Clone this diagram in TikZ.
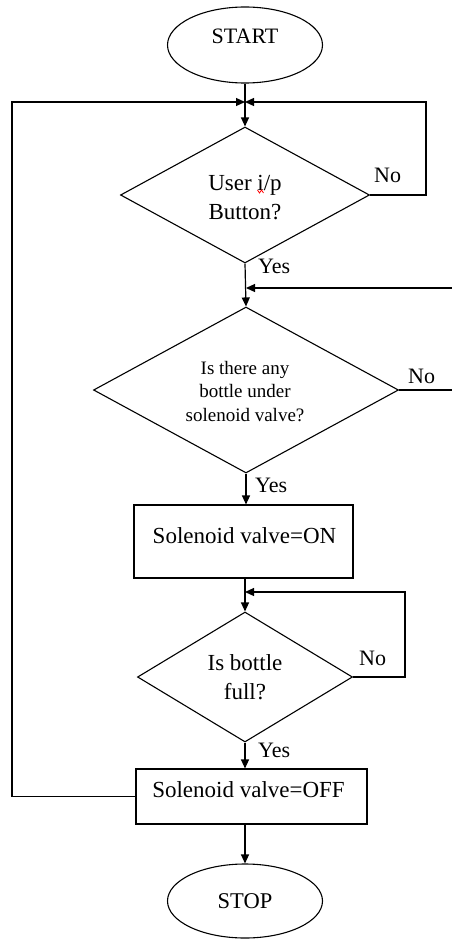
\documentclass[tikz,border=0pt]{standalone}
\usepackage{fontspec}
\setmainfont{Liberation Serif}
\usetikzlibrary{shapes.geometric,arrows.meta}
\tikzset{
  shp/.style={draw=black,line width=1.1pt,inner sep=0pt},
  oval/.style={shp,ellipse},
  decision/.style={shp,diamond},
  procbox/.style={shp,rectangle},
  txt/.style={inner sep=0pt,anchor=base,font=\fontsize{23}{27}\selectfont},
  smalltxt/.style={inner sep=0pt,anchor=base,font=\fontsize{19}{23}\selectfont},
  lbl/.style={inner sep=0pt,anchor=base west,font=\fontsize{22}{26}\selectfont},
  conn/.style={line width=1.2pt},
  arr/.style={conn,-{Triangle[length=9pt,width=8pt]}}
}
\begin{document}
\begin{tikzpicture}[x=1pt,y=-1pt]
\useasboundingbox (0,0) rectangle (452,939);
% shapes
\node[oval,minimum width=155pt,minimum height=76pt] (start) at (245,45) {};
\node[decision,minimum width=249pt,minimum height=136pt] (d1) at (245,195) {};
\node[decision,minimum width=305pt,minimum height=166pt] (d2) at (246,390) {};
\node[procbox,minimum width=219pt,minimum height=73pt] (box1) at (243.5,541.5) {};
\node[decision,minimum width=215pt,minimum height=130pt] (d3) at (245,677) {};
\node[procbox,minimum width=231pt,minimum height=55pt] (box2) at (251.5,796.5) {};
\node[oval,minimum width=155pt,minimum height=74pt] (stop) at (245,901) {};
% texts
\node[txt,font=\fontsize{22}{26}\selectfont] (tstart) at (245,44) {START};
\node[txt] (t1a) at (245,190) {User i/p};
\node[txt] (t1b) at (245,219) {Button?};
\node[smalltxt] (t2a) at (245,374) {Is there any};
\node[smalltxt] (t2b) at (245,397.5) {bottle under};
\node[smalltxt] (t2c) at (245,421) {solenoid valve?};
\node[txt] (tb1) at (244.5,543) {Solenoid valve=ON};
\node[txt] (t3a) at (245,670) {Is bottle};
\node[txt] (t3b) at (245,699) {full?};
\node[txt] (tb2) at (248.5,797) {Solenoid valve=OFF};
\node[txt,font=\fontsize{22.5}{26}\selectfont] (tstop) at (245,908) {STOP};
% spell-check mark under the i
\draw[red,line width=0.8pt] (257.5,190) -- (259.5,193) -- (261.5,190) -- (263.5,193);
% labels
\node[lbl] (y1) at (258,273) {Yes};
\node[lbl] (n1) at (374,182) {No};
\node[lbl] (y2) at (255,492) {Yes};
\node[lbl] (n2) at (408,383) {No};
\node[lbl] (y3) at (258,757) {Yes};
\node[lbl] (n3) at (359,665) {No};
% junction coordinates
\coordinate (j1) at (245,102);
\coordinate (j2) at (246,288);
\coordinate (j3) at (245,592);
\coordinate (L) at (12,102);
\coordinate (R1) at (426,102);
\coordinate (E2a) at (452,288);
\coordinate (E2b) at (452,390);
\coordinate (R3) at (405,592);
% connectors
\draw[arr] (start.south) -- (d1.north);
\draw[arr] (d1.south) -- (d2.north);
\draw[arr] (d2.south) -- (d2.south |- box1.north);
\draw[arr] (box1.south -| d3.north) -- (d3.north);
\draw[arr] (d3.south) -- (d3.south |- box2.north);
\draw[arr] (stop.north |- box2.south) -- (stop.north);
\draw[arr] (box2.west) -| (L) -- (j1);
\draw[arr] (d1.east) -| (R1) -- (j1);
\draw[arr] (E2a) -- (j2);
\draw[conn] (d2.east) -- (E2b);
\draw[arr] (d3.east) -| (R3) -- (j3);
\end{tikzpicture}
\end{document}
